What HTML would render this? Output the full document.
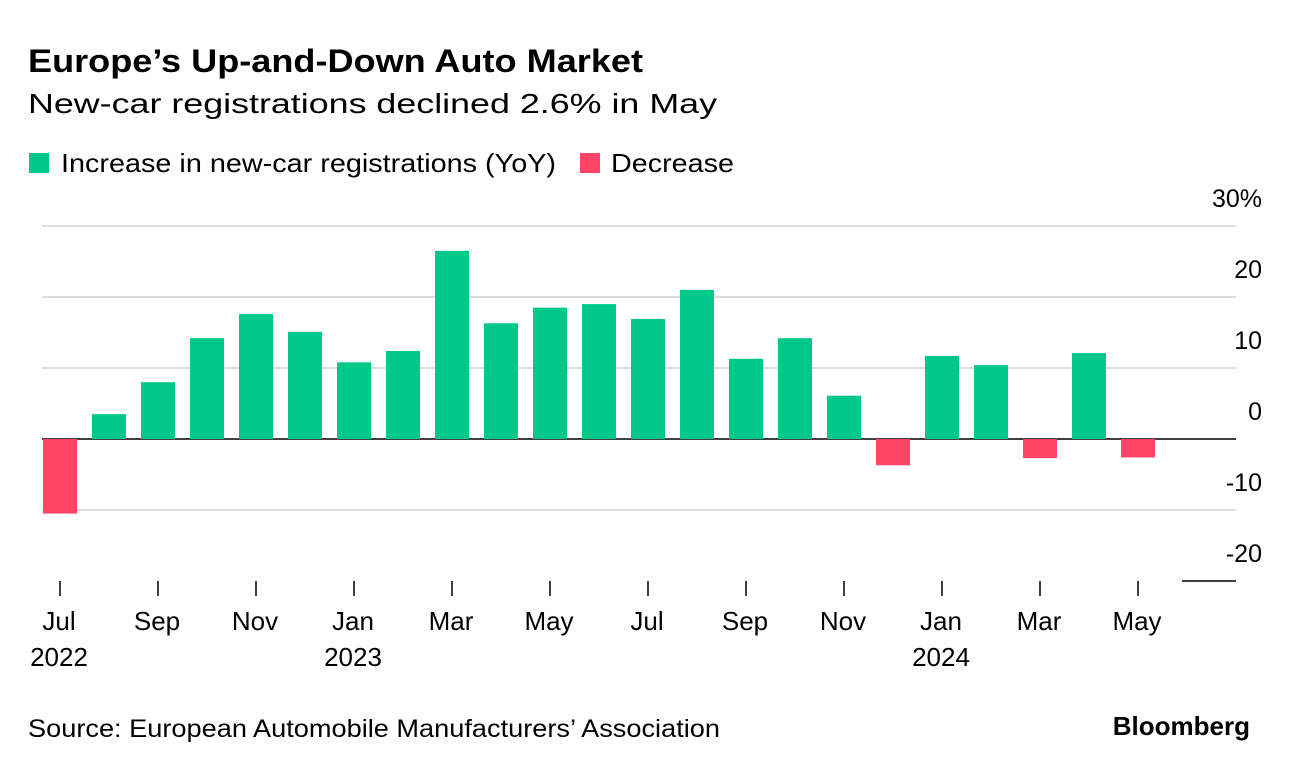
<!DOCTYPE html>
<html><head><meta charset="utf-8"><style>
body{margin:0;background:#fff;width:1289px;height:770px;overflow:hidden;font-family:"Liberation Sans",sans-serif;color:#000}
</style></head><body>
<svg width="1289" height="770" xmlns="http://www.w3.org/2000/svg" id="chart" font-family="Liberation Sans, sans-serif">
<text x="28" y="72" font-size="32" font-weight="bold" textLength="615" lengthAdjust="spacingAndGlyphs">Europe’s Up-and-Down Auto Market</text>
<text x="28" y="113" font-size="28" textLength="689" lengthAdjust="spacingAndGlyphs">New-car registrations declined 2.6% in May</text>
<g>
<rect x="29" y="153" width="20" height="20" fill="#00c88a"/>
<text x="61" y="172" font-size="26" textLength="495" lengthAdjust="spacingAndGlyphs">Increase in new-car registrations (YoY)</text>
<rect x="580" y="153" width="20" height="20" fill="#ff4466"/>
<text x="611" y="172" font-size="26" textLength="123" lengthAdjust="spacingAndGlyphs">Decrease</text>
</g>
<g id="grid"></g><g id="bars"></g><g id="xaxis"></g>
<text x="28" y="737" font-size="25" textLength="692" lengthAdjust="spacingAndGlyphs">Source: European Automobile Manufacturers’ Association</text>
<text x="1250" y="735" font-size="26" font-weight="bold" text-anchor="end">Bloomberg</text>
</svg>
<script>
const months=["Jul","Aug","Sep","Oct","Nov","Dec","Jan","Feb","Mar","Apr","May","Jun","Jul","Aug","Sep","Oct","Nov","Dec","Jan","Feb","Mar","Apr","May"];
const values=[-10.5,3.5,8.0,14.2,17.6,15.1,10.8,12.4,26.5,16.3,18.5,19.0,16.9,21.0,11.3,14.2,6.1,-3.7,11.7,10.4,-2.7,12.1,-2.6];
const yTicks=[30,20,10,0,-10,-20];
const yTickLabels=["30%","20","10","0","-10","-20"];
const yearLabels={0:"2022",6:"2023",18:"2024"};
const NS="http://www.w3.org/2000/svg";
function y(v){return 439-v*7.1;}
function x(i){return 60+i*49;}
function mk(t,a,p){const e=document.createElementNS(NS,t);for(const k in a)e.setAttribute(k,a[k]);p.appendChild(e);return e;}
const grid=document.getElementById('grid');
yTicks.forEach((t,i)=>{
  const ln=mk('line',{x1:t===-20?1182:42,x2:1236,y1:y(t),y2:y(t),stroke:t===0||t===-20?'#000':'#ddd','stroke-width':t===0||t===-20?1.5:2},grid);
  
  
  const tx=mk('text',{x:1262,y:y(t)-19,'font-size':25,'text-anchor':'end'},grid);
  tx.textContent=yTickLabels[i];
  
  
});
const bars=document.getElementById('bars');
values.forEach((v,i)=>{
  const r=mk('rect',{x:x(i)-17,width:34,y:Math.min(y(v),y(0)),height:Math.abs(y(v)-y(0)),fill:v>=0?'#00c88a':'#ff4466'},bars);
  
  
});
const xa=document.getElementById('xaxis');
months.forEach((m,i)=>{
  if(i%2)return;
  const tk=mk('line',{x1:x(i),x2:x(i),y1:581,y2:596,stroke:'#000','stroke-width':1.5},xa);
  
  
  const t=mk('text',{x:x(i)-1,y:630,'font-size':26,'text-anchor':'middle'},xa);
  t.textContent=m;
  
  
  if(yearLabels[i]){
    const yt=mk('text',{x:x(i)-1,y:666,'font-size':26,'text-anchor':'middle'},xa);
    yt.textContent=yearLabels[i];
    
    
  }
});
</script>
</body></html>
